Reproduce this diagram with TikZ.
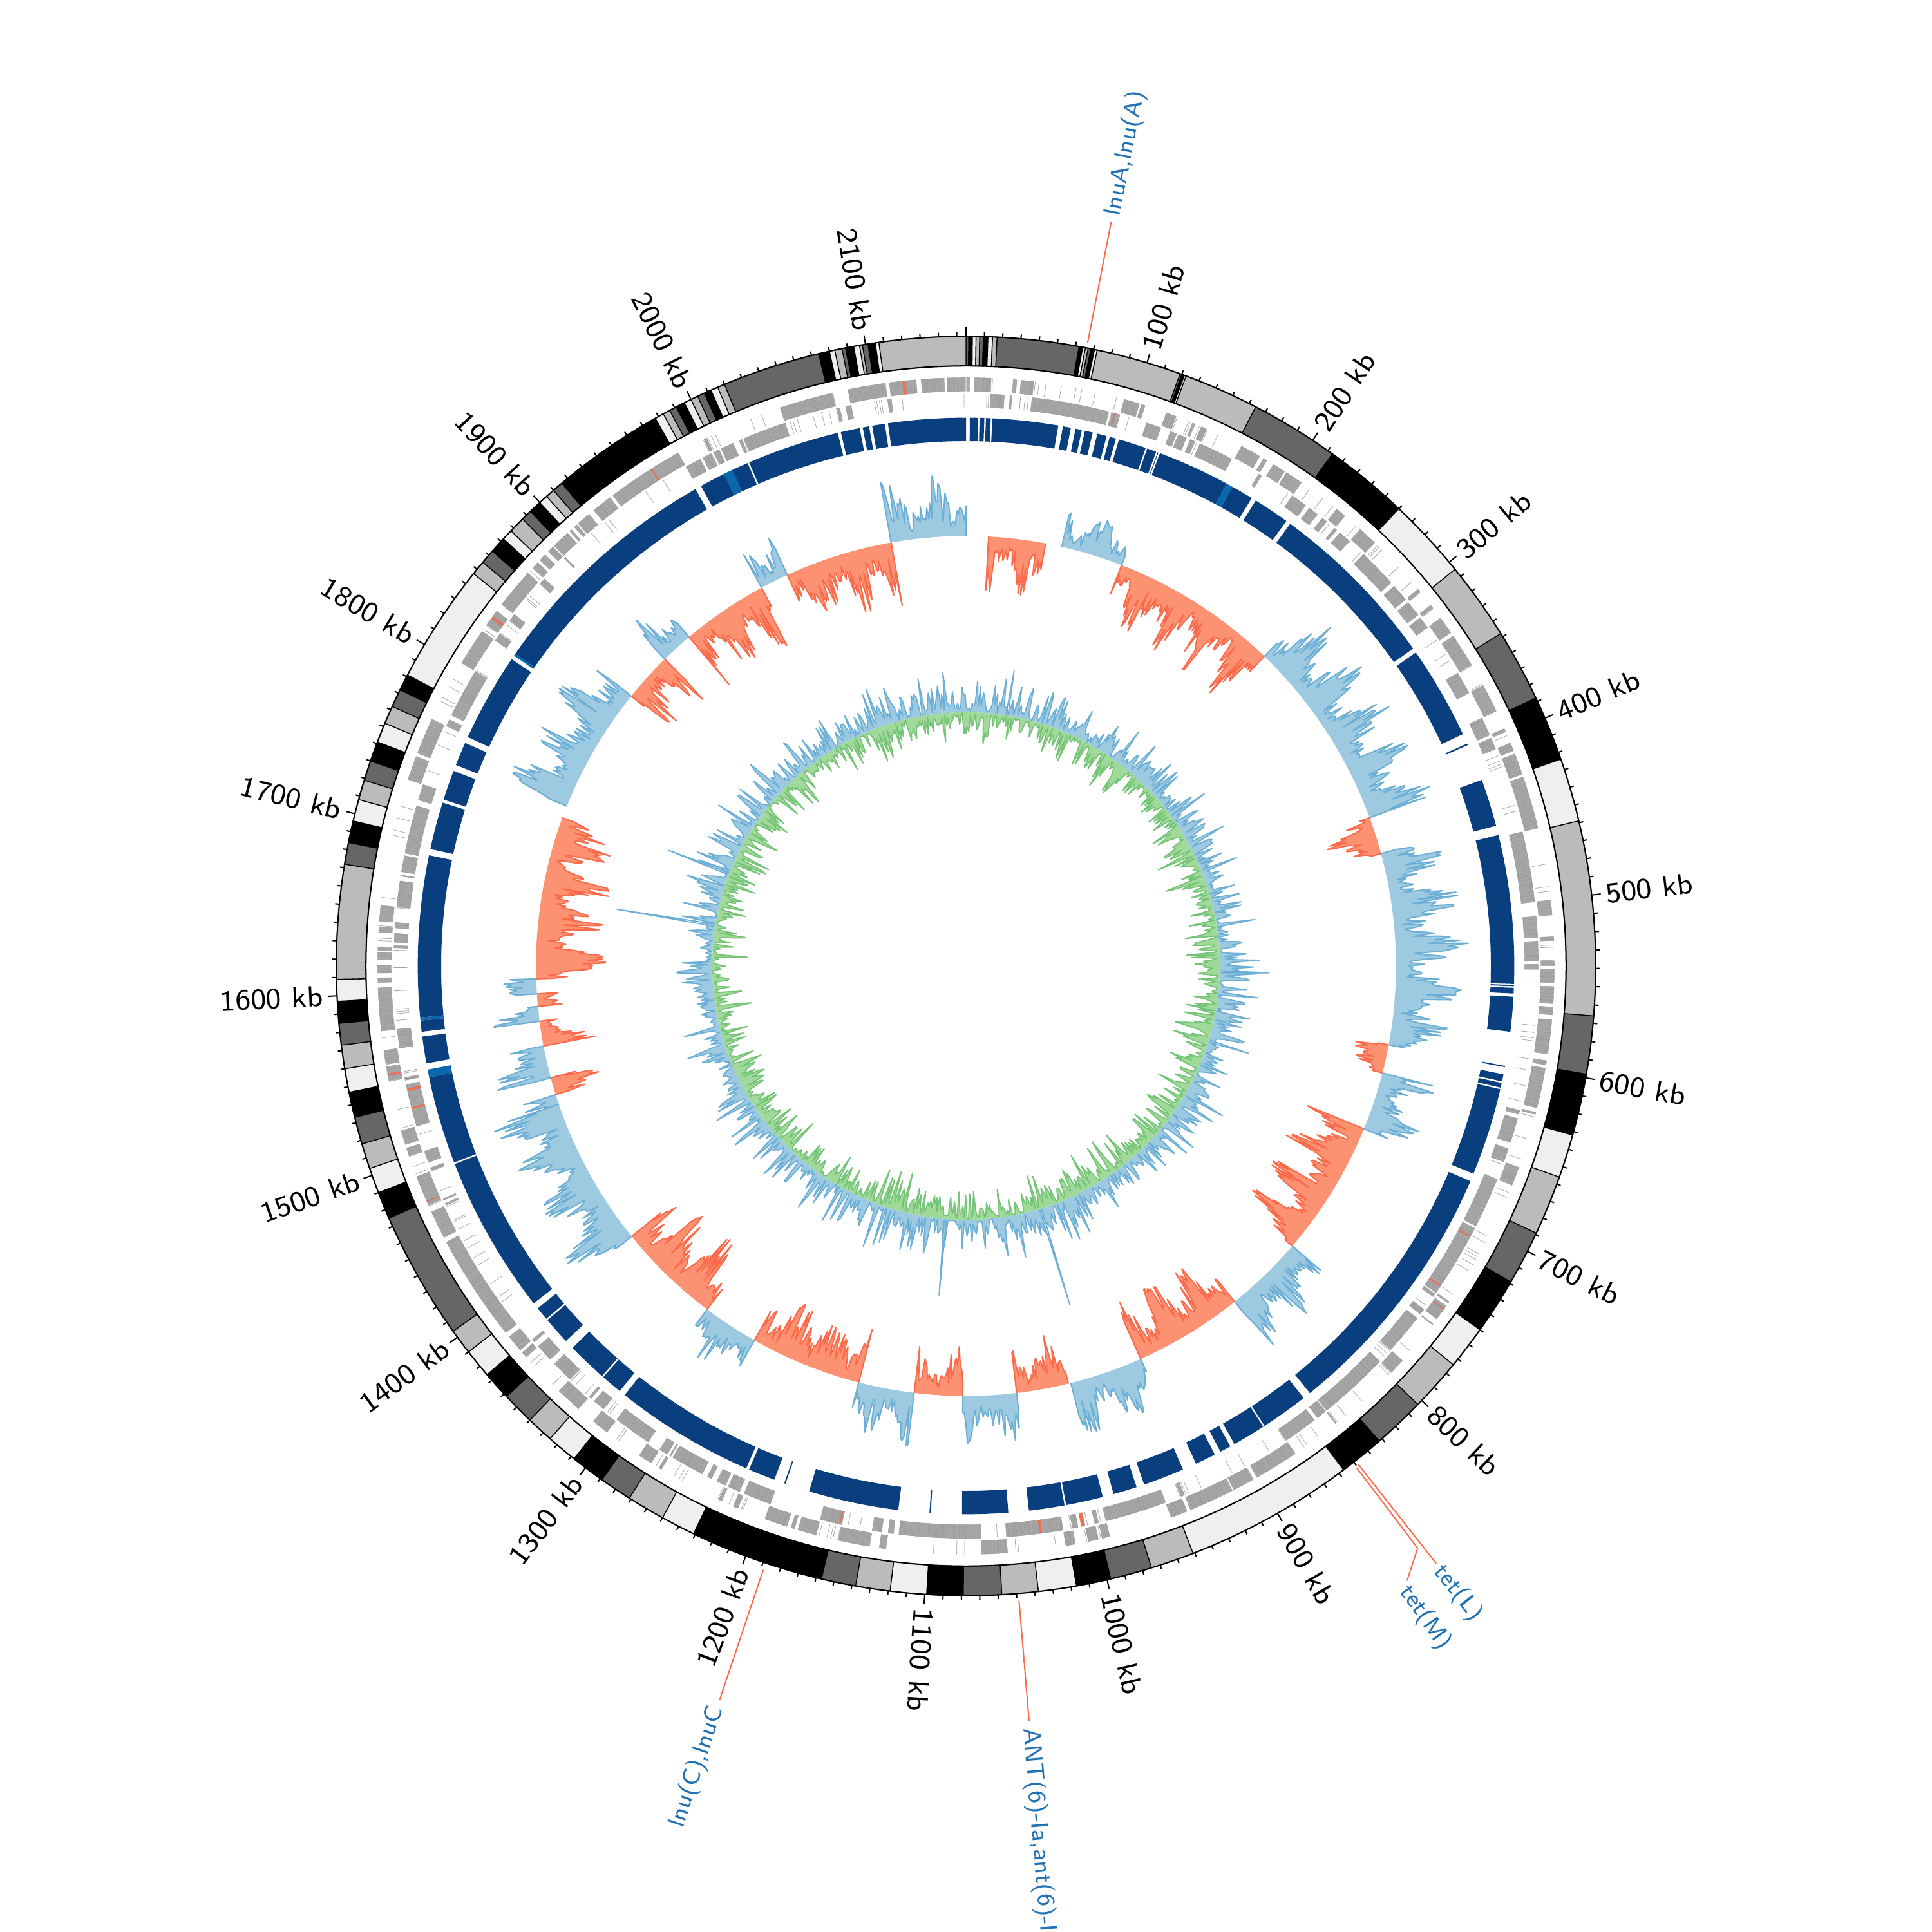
\documentclass[tikz,border=0pt]{standalone}
\usepackage{fontspec}
\definecolor{k0}{RGB}{0,0,0}
\definecolor{k1}{RGB}{239,239,239}
\definecolor{k2}{RGB}{187,187,187}
\definecolor{k3}{RGB}{102,102,102}
\definecolor{bring}{RGB}{9,63,126}
\definecolor{bringl}{RGB}{12,104,172}
\definecolor{genec}{RGB}{166,166,166}
\definecolor{genesep}{RGB}{150,150,150}
\definecolor{redc}{RGB}{251,106,74}
\definecolor{hbfc}{RGB}{158,202,225}
\definecolor{hblc}{RGB}{107,174,214}
\definecolor{hsfc}{RGB}{252,146,114}
\definecolor{hslc}{RGB}{251,106,74}
\definecolor{ggfc}{RGB}{161,217,155}
\definecolor{gglc}{RGB}{116,196,118}
\definecolor{labc}{RGB}{33,113,181}
\pgfmathdeclarefunction{ka}{1}{\pgfmathparse{90-0.167053*#1}}
\newcommand\ringseg[5]{%
  \pgfmathsetmacro\ringA{ka(#1)}%
  \pgfmathsetmacro\ringB{ka(#2)}%
  \path[#5] (\ringA:#3) arc[start angle=\ringA, end angle=\ringB, radius=#3]
    -- (\ringB:#4) arc[start angle=\ringB, end angle=\ringA, radius=#4] -- cycle;}
\tikzset{
  hbF/.style={fill=hbfc},
  hbL/.style={draw=hblc, line width=0.3pt, line join=round},
  hsF/.style={fill=hsfc},
  hsL/.style={draw=hslc, line width=0.3pt, line join=round},
  gcbF/.style={fill=hbfc},
  gcbL/.style={draw=hblc, line width=0.27pt, line join=round},
  gcgF/.style={fill=ggfc},
  gcgL/.style={draw=gglc, line width=0.27pt, line join=round},
  tickst/.style={draw=black, line width=0.3pt},
  ticklab/.style={font=\sffamily\fontsize{6.7}{8}\selectfont, text=black, inner sep=0pt},
  genelab/.style={font=\sffamily\fontsize{5.6}{7}\selectfont, text=labc, inner sep=0pt},
  lead/.style={draw=redc, line width=0.3pt},
  genebox/.style={draw=genesep, line width=0.06pt},
}
\begin{document}
\begin{tikzpicture}[x=1cm,y=1cm]
\useasboundingbox (-7.84,-7.84) rectangle (7.84,7.84);
\fill[white] (-7.84,-7.84) rectangle (7.84,7.84);

% ---------- outer contig ring ----------
\foreach \s/\e/\c in {0/1.5/k3, 1.5/3.5/k0, 3.5/5.5/k1, 5.5/7.5/k2, 7.5/9.5/k3, 9.5/12/k0, 12/14.5/k1, 14.5/17/k2,
 17/62/k3, 62/64/k0, 64/65.5/k1, 65.5/67/k2, 67/68.5/k3, 68.5/70.5/k0, 70.5/72/k1, 72/119/k2, 119/120/k3,
 120/121.5/k0, 121.5/122.5/k1, 122.5/164/k2, 164/213/k3, 213/260/k0, 260/305/k1, 305/348/k2, 348/388/k3,
 388/424/k0, 424/459/k1, 459/566/k2, 566/598/k3, 598/632/k0, 632/656/k1, 656/689/k2, 689/719/k3, 719/750/k0,
 750/774/k1, 774/803/k2, 803/832/k3, 832/857/k0, 857/951/k1, 951/975/k2, 975/998/k3, 998/1017/k0,
 1017/1038/k1, 1038/1058/k2, 1058/1079/k3, 1079/1099/k0, 1099/1119/k1, 1119/1138/k2, 1138/1157/k3,
 1157/1231/k0, 1231/1250/k1, 1250/1271/k2, 1271/1289/k3, 1289/1308/k0, 1308/1325/k1, 1325/1340/k2,
 1340/1358/k3, 1358/1374/k0, 1374/1390/k1, 1390/1404/k2, 1404/1475/k3, 1475/1490/k0, 1490/1504/k1,
 1504/1518/k2, 1518/1533/k3, 1533/1547/k0, 1547/1560/k1, 1560/1573/k2, 1573/1585/k3, 1585/1597/k0,
 1597/1609/k1, 1609/1672/k2, 1672/1684/k3, 1684/1696/k0, 1696/1708/k1, 1708/1719/k2, 1719/1730/k3,
 1730/1741/k0, 1741/1752/k1, 1752/1762/k2, 1762/1772/k3, 1772/1781/k0, 1781/1847/k1, 1847/1855/k2,
 1855/1863/k3, 1863/1872/k0, 1872/1878/k1, 1878/1887/k2, 1887/1893/k3, 1893/1900/k0, 1900/1905/k1,
 1905/1910/k2, 1910/1916/k3, 1916/1978/k0, 1978/1983/k1, 1983/1987/k2, 1987/1991/k3, 1991/1996/k0,
 1996/2000/k1, 2000/2004/k2, 2004/2008/k3, 2008/2012/k0, 2012/2016/k1, 2016/2020/k2, 2020/2074/k3,
 2074/2080/k0, 2080/2083/k1, 2083/2087/k2, 2087/2089/k3, 2089/2093.5/k0, 2093.5/2096.7/k1,
 2096.7/2098.3/k2, 2098.3/2101.4/k3, 2101.4/2105.4/k0, 2105.4/2107.4/k1, 2107.4/2155/k2}
 {\ringseg{\s}{\e}{5.11}{4.87}{fill=\c, draw=black, line width=0.2pt}}
\draw[line width=0.3pt] (0,0) circle (5.11);
\draw[line width=0.3pt] (0,0) circle (4.87);

% ---------- ticks ----------
\foreach \k in {0,10,...,2150}{%
  \pgfmathsetmacro\ta{ka(\k)}%
  \pgfmathtruncatemacro\mj{mod(\k,100)==0 ? 1 : 0}%
  \ifnum\mj=1 \draw[tickst] (\ta:5.11) -- (\ta:5.185);%
  \else \draw[tickst] (\ta:5.11) -- (\ta:5.145);\fi
}
\foreach \k in {100,200,...,2100}{%
  \pgfmathsetmacro\ta{ka(\k)}%
  \ifnum\k>1100
    \pgfmathsetmacro\tb{\ta+180}%
    \node[ticklab, anchor=east, rotate=\tb] (tl\k) at (\ta:5.22) {\k~kb};
  \else
    \node[ticklab, anchor=west, rotate=\ta] (tl\k) at (\ta:5.22) {\k~kb};
  \fi
}

% ---------- gene ring: two strand tiers, genes in runs ----------
\pgfmathsetseed{11}
\gdef\gpos{0.3}\gdef\gst{0}
\foreach \i in {1,...,1500}{%
  \pgfmathsetmacro\glen{0.6+1.8*rnd}%
  \pgfmathsetmacro\gu{rnd}%
  \ifdim\gu pt<0.09pt \ifnum\gst=0 \gdef\gst{1}\else\gdef\gst{0}\fi\fi
  \ifnum\gst=0
    \def\gro{4.775}\def\gri{4.665}\def\hro{4.645}\def\hri{4.535}%
  \else
    \def\gro{4.645}\def\gri{4.535}\def\hro{4.775}\def\hri{4.665}%
  \fi
  \pgfmathsetmacro\gv{rnd}%
  \pgfmathsetmacro\gy{rnd}%
  \pgfmathsetmacro\gend{min(\gpos+\glen,2154.8)}%
  \ifdim\gpos pt<2154pt
    \ifdim\gv pt<0.012pt \def\gcol{redc}\else\def\gcol{genec}\fi
    \ringseg{\gpos}{\gend}{\gro}{\gri}{fill=\gcol, genebox}%
    \ifdim\gy pt<0.16pt
      \pgfmathsetmacro\gaa{\gpos+0.3*\glen}%
      \pgfmathsetmacro\gbb{\gaa+0.3}%
      \ringseg{\gaa}{\gbb}{\hro}{\hri}{fill=genec}%
    \fi
  \fi
  \pgfmathsetmacro\gw{rnd}%
  \pgfmathsetmacro\gx{rnd}%
  \ifdim\gw pt<0.05pt \pgfmathsetmacro\ggap{1+3*\gx}\else\def\ggap{0}\fi
  \pgfmathsetmacro\gnew{\gend+\ggap}%
  \xdef\gpos{\gnew}%
}

% ---------- blue ring ----------
\foreach \s/\e in {2.4/7.5, 8.5/11.5, 12.5/15.5, 16.5/58, 61/66, 69/73, 75/80, 83/89, 91/95, 97/170,
 174/188, 191/214, 217/327, 330/389, 395.5/396.5, 420/450, 456/550, 550.6/551.4, 552.4/556, 558/580,
 601.6/602.4, 607/672, 677/845, 850/880, 881/902, 905/912, 916/929, 938/964, 969/984, 991/1038,
 1051/1080, 1099.6/1100.4, 1120/1177, 1192.6/1193.4, 1200/1217, 1219/1308, 1312/1352, 1358/1385,
 1389/1546, 1555/1572, 1575/1582, 1584/1686, 1690/1720, 1722/1741, 1745/1760, 1764/1820, 1824/1978,
 1982/2074, 2076/2088, 2090/2094, 2096/2104, 2106/2155}
 {\ringseg{\s}{\e}{4.45}{4.26}{fill=bring}}
\foreach \s/\e in {170/174, 1546/1551, 1582/1584, 1998/2004, 1822.6/1824}
 {\ringseg{\s}{\e}{4.45}{4.26}{fill=bringl}}
\foreach \k in {115,122,123.5,612,616,1015,1326,1376,1490,2015}{%
  \pgfmathsetmacro\ta{ka(\k)}%
  \draw[white, line width=0.35pt] (\ta:4.255) -- (\ta:4.455);
}

% ---------- skew histogram ----------
\foreach \s/\e/\sg/\A/\cf/\cl [count=\n] in {2095/2155/1/0.55/hbF/hbL, 18/64/-1/0.5/hsF/hsL,
 77/127/1/0.38/hbF/hbL, 127/263/-1/0.55/hsF/hsL, 263/418/1/0.55/hbF/hbL, 418/448/-1/0.42/hsF/hsL,
 448/602/1/0.6/hbF/hbL, 602/625/-1/0.38/hsF/hsL, 625/672/1/0.45/hbF/hbL, 672/782/-1/0.58/hsF/hsL,
 782/846/1/0.48/hbF/hbL, 846/934/-1/0.58/hsF/hsL, 934/993/1/0.48/hbF/hbL, 995/1037/-1/0.45/hsF/hsL,
 1037/1080/1/0.45/hbF/hbL, 1080/1119/-1/0.42/hsF/hsL, 1119/1164/1/0.45/hbF/hbL, 1164/1254/-1/0.55/hsF/hsL,
 1254/1299/1/0.42/hbF/hbL, 1299/1383/-1/0.6/hsF/hsL, 1383/1504/1/0.62/hbF/hbL, 1504/1512/1/0.5/hbF/hbL,
 1512/1526/-1/0.45/hsF/hsL, 1526/1552/1/0.55/hbF/hbL, 1552/1572/-1/0.45/hsF/hsL, 1572/1584/1/0.5/hbF/hbL,
 1584/1594/-1/0.4/hsF/hsL, 1594/1606/1/0.55/hbF/hbL, 1606/1737/-1/0.6/hsF/hsL, 1747/1849/1/0.55/hbF/hbL,
 1849/1889/-1/0.45/hsF/hsL, 1889/1915/1/0.42/hbF/hbL, 1915/1985/-1/0.55/hsF/hsL, 1985/2008/1/0.45/hbF/hbL,
 2008/2095/-1/0.55/hsF/hsL}{%
  \pgfmathtruncatemacro\N{(\e-\s)/1.2+1}%
  \pgfmathsetmacro\stp{(\e-\s)/\N}%
  \pgfmathtruncatemacro\sd{\n*7+3}%
  \pgfmathsetmacro\pa{ka(\s)}%
  \pgfmathsetmacro\pb{ka(\e)}%
  \pgfmathsetseed{\sd}%
  \gdef\hp{}%
  \foreach \j in {0,...,\N}{%
    \pgfmathsetmacro\ta{ka(\s+\j*\stp)}%
    \pgfmathsetmacro\mo{0.7+0.3*sin(\j*\stp*11+\n*47)}%
    \pgfmathsetmacro\rr{3.49+(\sg)*\A*\mo*(0.25+0.75*rnd)}%
    \xdef\hp{\hp -- (\ta:\rr)}%
  }%
  \fill[\cf] (\pa:3.49) \hp -- (\pb:3.49) arc[start angle=\pb, end angle=\pa, radius=3.49] -- cycle;
  \draw[\cl] (\pa:3.49) \hp -- (\pb:3.49);
}

% ---------- GC ring ----------
\pgfmathsetseed{101}
\gdef\gcb{}\gdef\gcg{}
\foreach \j in {0,...,1077}{%
  \pgfmathsetmacro\ta{ka(\j*2.0)}%
  \pgfmathsetmacro\rb{2.065+0.37*rnd*rnd}%
  \pgfmathsetmacro\rg{2.055-0.33*rnd*rnd}%
  \xdef\gcb{\gcb (\ta:\rb) --}%
  \xdef\gcg{\gcg (\ta:\rg) --}%
}
\fill[gcbF, even odd rule] \gcb cycle (0,0) circle (2.06);
\draw[gcbL] \gcb cycle;
\fill[gcgF, even odd rule] \gcg cycle (0,0) circle (2.06);
\draw[gcgL] \gcg cycle;
\foreach \k/\r in {1670/2.87, 974/2.88, 1104/2.68, 1742/2.59, 545/2.46, 54/2.43, 640/2.40}{%
  \pgfmathsetmacro\ta{ka(\k)}%
  \pgfmathsetmacro\tc{ka(\k+1.5)}%
  \pgfmathsetmacro\td{ka(\k+3)}%
  \draw[gcbL] (\ta:2.07) -- (\tc:\r) -- (\td:2.07);
}

% ---------- annotations ----------
\pgfmathsetmacro\la{ka(66.1)}
\coordinate (lnuAa) at (\la:5.15);
\coordinate (lnuAb) at (\la:6.15);
\draw[lead] (lnuAa) -- (lnuAb);
\pgfmathsetmacro\lb{ka(66.6)}
\node[genelab, anchor=west, rotate=\lb] (lnuA) at (\lb:6.2) {lnuA,lnu(A)};

\pgfmathsetmacro\la{ka(848.8)}
\coordinate (tetLa) at (\la:5.15);
\coordinate (tetLb) at (\la:6.17);
\draw[lead] (tetLa) -- (tetLb);
\pgfmathsetmacro\lb{ka(849.3)}
\node[genelab, anchor=west, rotate=\lb] (tetL) at (\lb:6.2) {tet(L)};

\pgfmathsetmacro\la{ka(850.6)}
\pgfmathsetmacro\lc{ka(851.2)}
\pgfmathsetmacro\ld{ka(864)}
\coordinate (tetMa) at (\la:5.16);
\coordinate (tetMb) at (\lc:5.98);
\coordinate (tetMc) at (\ld:6.14);
\draw[lead] (tetMa) -- (tetMb) -- (tetMc);
\pgfmathsetmacro\lb{ka(867)}
\node[genelab, anchor=west, rotate=\lb] (tetM) at (\lb:6.17) {tet(M)};

\pgfmathsetmacro\la{ka(1048.9)}
\coordinate (anta) at (\la:5.17);
\coordinate (antb) at (\la:6.15);
\draw[lead] (anta) -- (antb);
\node[genelab, anchor=west, rotate=\la] (ant) at (\la:6.2) {ANT(6)-Ia,ant(6)-I};

\pgfmathsetmacro\la{ka(1188.6)}
\coordinate (lnuCa) at (\la:5.17);
\coordinate (lnuCb) at (\la:6.28);
\draw[lead] (lnuCa) -- (lnuCb);
\pgfmathsetmacro\lb{\la+180}
\node[genelab, anchor=east, rotate=\lb] (lnuC) at (\la:6.34) {lnu(C),lnuC};
\end{tikzpicture}
\end{document}
